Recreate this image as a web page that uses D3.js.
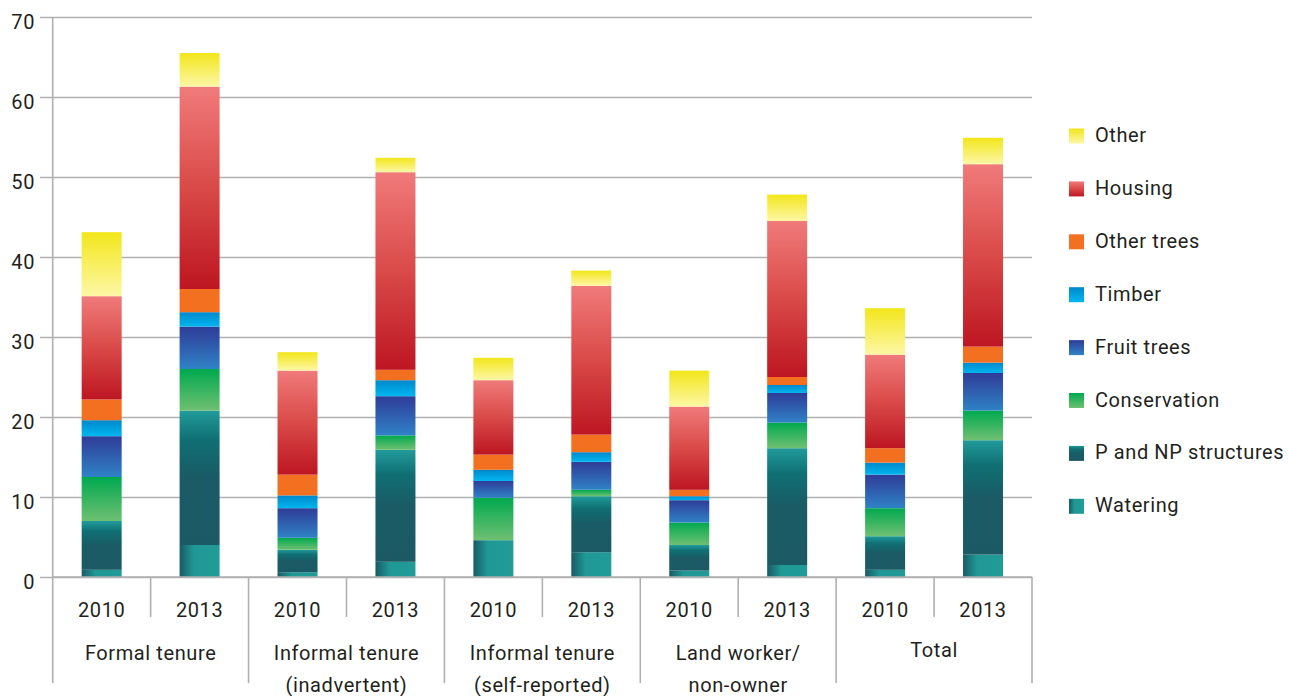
<!DOCTYPE html>
<html>
<head>
<meta charset="utf-8">
<script src="https://cdn.jsdelivr.net/npm/d3@7"></script>
<style>
  html, body { margin: 0; padding: 0; background: #fff; }
  svg text { font-family: Roboto, "Noto Sans", sans-serif; fill: #231f20; letter-spacing: 0.6px; }
</style>
</head>
<body>
<svg id="chart" width="1289" height="696"></svg>
<script>
// Groups and survey years
const groups = [
  ["Formal tenure"],
  ["Informal tenure", "(inadvertent)"],
  ["Informal tenure", "(self-reported)"],
  ["Land worker/", "non-owner"],
  ["Total"]
];
const years = ["2010", "2013"];

// Investment categories, stacked bottom to top
const categories = ["Watering", "P and NP structures", "Conservation", "Fruit trees",
                    "Timber", "Other trees", "Housing", "Other"];

// One value per bar (Formal 2010, Formal 2013, Inadvertent 2010, ... Total 2013)
const watering     = [0.9, 4.0, 0.6, 1.9, 4.6, 3.1, 0.8, 1.5, 0.9, 2.8];
const structures   = [6.1, 16.8, 2.8, 14.0, 0.0, 7.0, 3.2, 14.6, 4.2, 14.3];
const conservation = [5.5, 5.2, 1.5, 1.8, 5.3, 0.8, 2.8, 3.2, 3.5, 3.7];
const fruitTrees   = [5.1, 5.3, 3.7, 4.9, 2.1, 3.5, 2.8, 3.7, 4.2, 4.7];
const timber       = [2.0, 1.8, 1.6, 2.0, 1.4, 1.2, 0.5, 1.0, 1.5, 1.3];
const otherTrees   = [2.6, 2.9, 2.6, 1.3, 1.9, 2.2, 0.8, 1.0, 1.8, 2.0];
const housing      = [12.9, 25.3, 13.0, 24.7, 9.3, 18.6, 10.4, 19.5, 11.7, 22.8];
const other        = [8.0, 4.2, 2.3, 1.8, 2.8, 1.9, 4.5, 3.3, 5.8, 3.3];

const yTicks = [0, 10, 20, 30, 40, 50, 60, 70];

const seriesValues = [watering, structures, conservation, fruitTrees, timber, otherTrees, housing, other];

// Build rows for d3.stack
const bars = [];
groups.forEach((g, gi) => years.forEach((yr, yi) => {
  const idx = gi * 2 + yi;
  const row = { id: idx, group: gi, year: yr };
  categories.forEach((c, ci) => row[c] = seriesValues[ci][idx]);
  bars.push(row);
}));

// Gradient fills for each category
const fills = {
  "Other":               { dir: "v", stops: [[0, "#f2e61a"], [1, "#fdf7a6"]] },
  "Housing":             { dir: "v", stops: [[0, "#f07a7a"], [0.5, "#d94a48"], [1, "#bd1622"]] },
  "Other trees":         { dir: "v", stops: [[0, "#f37021"], [1, "#f37021"]] },
  "Timber":              { dir: "v", stops: [[0, "#0088cc"], [1, "#00b6ef"]] },
  "Fruit trees":         { dir: "v", stops: [[0, "#2f3c97"], [1, "#2f82c6"]] },
  "Conservation":        { dir: "v", stops: [[0, "#00a94f"], [1, "#6fc072"]] },
  "P and NP structures": { dir: "v", stops: [[0, "#219b9a"], [0.22, "#0f6f73"], [0.5, "#1a5b65"], [1, "#1b5a64"]] },
  "Watering":            { dir: "h", stops: [[0, "#1a5a64"], [0.35, "#1f9896"], [1, "#219b98"]] }
};

const svg = d3.select("#chart");
const defs = svg.append("defs");
categories.forEach((c, i) => {
  const f = fills[c];
  const lg = defs.append("linearGradient").attr("id", "grad" + i)
    .attr("x1", 0).attr("y1", 0)
    .attr("x2", f.dir === "h" ? 1 : 0).attr("y2", f.dir === "h" ? 0 : 1);
  f.stops.forEach(s => lg.append("stop").attr("offset", s[0]).attr("stop-color", s[1]));
});

const plotLeft = 52.7, plotRight = 1032, plotTop = 17, plotBottom = 577;

const x = d3.scaleBand().domain(bars.map(d => d.id)).range([plotLeft, plotRight]).padding(0);
const barW = 40;
const y = d3.scaleLinear().domain([0, 70]).range([plotBottom, plotTop]);

// Y axis with full-width gridlines
const yAxis = d3.axisLeft(y).tickValues(yTicks).tickSize(-(plotRight - 40)).tickPadding(5);
const gy = svg.append("g").attr("transform", "translate(40,0)").call(yAxis);
gy.select(".domain").remove();
gy.selectAll(".tick line").attr("stroke", "#b0b0b0").attr("stroke-width", 1.6);
gy.selectAll(".tick text").attr("font-size", 20).attr("dy", "0.75em").attr("fill", "#231f20")
  .attr("font-family", "Roboto, 'Noto Sans', sans-serif")
  .attr("transform", "translate(0,-4)");

// Vertical axis line
svg.append("line").attr("x1", plotLeft).attr("x2", plotLeft).attr("y1", plotTop).attr("y2", 683)
  .attr("stroke", "#b0b0b0").attr("stroke-width", 1.6);

// Stacked bars
const stack = d3.stack().keys(categories);
const layers = stack(bars);
svg.append("g").selectAll("g").data(layers).join("g")
  .attr("fill", (d, i) => `url(#grad${i})`)
  .selectAll("rect").data(d => d).join("rect")
  .attr("x", d => x(d.data.id) + x.bandwidth() / 2 - barW / 2)
  .attr("width", barW)
  .attr("y", d => y(d[1]))
  .attr("height", d => Math.max(0, y(d[0]) - y(d[1])));

// Bottom axis line
svg.append("line").attr("x1", plotLeft).attr("x2", plotRight).attr("y1", plotBottom).attr("y2", plotBottom)
  .attr("stroke", "#b0b0b0").attr("stroke-width", 1.6);

// Separators: short between years, long between groups
const seps = d3.range(1, bars.length + 1);
svg.append("g").selectAll("line").data(seps).join("line")
  .attr("x1", i => plotLeft + x.step() * i).attr("x2", i => plotLeft + x.step() * i)
  .attr("y1", plotBottom).attr("y2", i => i % 2 === 0 ? 683 : 617)
  .attr("stroke", "#b0b0b0").attr("stroke-width", 1.6);

// Year labels
svg.append("g").selectAll("text").data(bars).join("text")
  .attr("x", d => x(d.id) + x.bandwidth() / 2)
  .attr("y", 617)
  .attr("text-anchor", "middle").attr("font-size", 20)
  .text(d => d.year);

// Group labels
const gl = svg.append("g").selectAll("text").data(groups).join("text")
  .attr("x", (d, i) => plotLeft + x.step() * (2 * i + 1))
  .attr("y", d => d.length === 1 && d[0] === "Total" ? 657 : 660)
  .attr("text-anchor", "middle").attr("font-size", 20);
gl.selectAll("tspan").data(d => d).join("tspan")
  .attr("x", function () { return d3.select(this.parentNode).attr("x"); })
  .attr("dy", (d, i) => i === 0 ? 0 : 32)
  .text(d => d);

// Legend, top entry is the top of the stack
const legendItems = categories.map((c, i) => ({ c, i })).reverse();
const lgd = svg.append("g").selectAll("g").data(legendItems).join("g")
  .attr("transform", (d, k) => `translate(1069,${136 + k * 52.9})`);
lgd.append("rect").attr("x", 0).attr("y", -7.5).attr("width", 15).attr("height", 15)
  .attr("fill", d => `url(#grad${d.i})`);
lgd.append("text").attr("x", 26).attr("y", 6).attr("font-size", 20).text(d => d.c);
</script>
</body>
</html>
